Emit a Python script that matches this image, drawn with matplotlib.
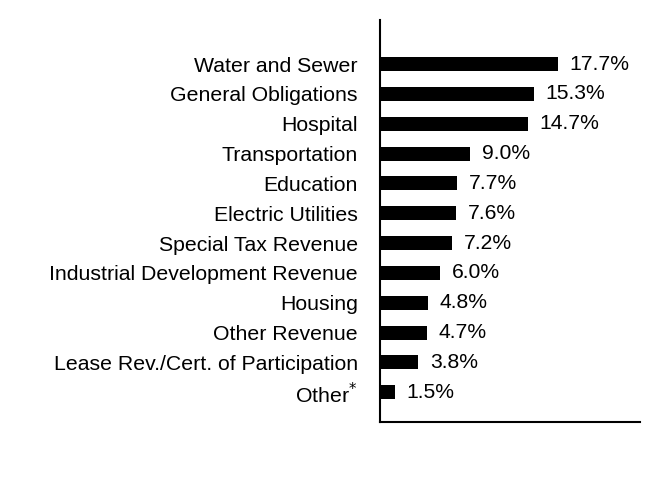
import matplotlib
matplotlib.use("Agg")
import matplotlib.pyplot as plt

plt.rcParams['font.family'] = ['Liberation Sans', 'DejaVu Sans']

categories = [
    "Water and Sewer", "General Obligations", "Hospital", "Transportation",
    "Education", "Electric Utilities", "Special Tax Revenue",
    "Industrial Development Revenue", "Housing", "Other Revenue",
    "Lease Rev./Cert. of Participation", "Other$^{*}$",
]
values = [17.7, 15.3, 14.7, 9.0, 7.7, 7.6, 7.2, 6.0, 4.8, 4.7, 3.8, 1.5]

fig = plt.figure(figsize=(6.6, 5.04), dpi=100)
ax = fig.add_axes([380 / 660, 1 - 422 / 504, 260 / 660, 402 / 504])

pos = list(range(len(values)))
ax.barh(pos, values, height=0.47, color="black")
for p, v in zip(pos, values):
    ax.annotate(f"{v:.1f}%", xy=(v, p), xytext=(8.5, 0), textcoords="offset points",
                va="center", ha="left", fontsize=15.2)

ax.set_xlim(0, 25.9)
ax.set_ylim(12.0, -1.48)
ax.set_yticks(pos)
ax.set_yticklabels(categories, fontsize=15.3)
ax.tick_params(axis="y", length=0, pad=16)
ax.set_xticks([])
ax.spines["top"].set_visible(False)
ax.spines["right"].set_visible(False)
ax.spines["left"].set_linewidth(1.5)
ax.spines["bottom"].set_linewidth(1.5)

fig.savefig("out.png", dpi=100)
